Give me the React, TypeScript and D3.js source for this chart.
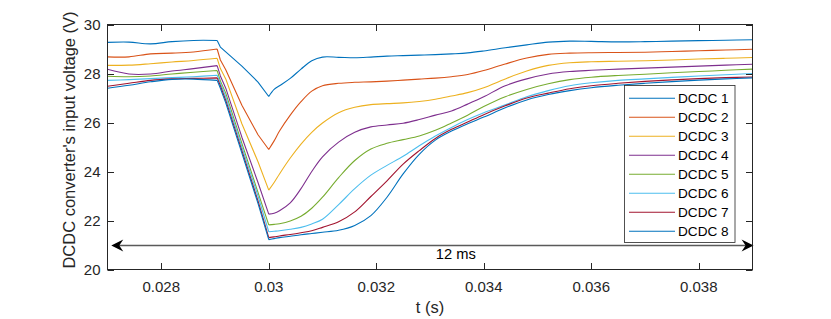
import React from "react";
import * as d3 from "d3";

const time = [
  0.027, 0.0274, 0.0278, 0.0282, 0.0286, 0.02904,
  0.0291, 0.0292, 0.0295, 0.0298, 0.03,
  0.0301, 0.0302, 0.0304, 0.0306, 0.0308, 0.031, 0.0313, 0.0316, 0.0319, 0.0322,
  0.0325, 0.0328, 0.0331, 0.0334, 0.0337, 0.034, 0.0344, 0.0348, 0.0352, 0.0356,
  0.036, 0.0365, 0.037, 0.0375, 0.038, 0.0385, 0.039,
];

const dcdc1 = [
  29.27, 29.28, 29.21, 29.3, 29.35, 29.35,
  29.08, 28.88, 28.3, 27.65, 27.06,
  27.35, 27.5, 27.8, 28.18, 28.52, 28.67, 28.66, 28.64, 28.67, 28.71,
  28.73, 28.75, 28.77, 28.8, 28.84, 28.92, 29.05, 29.17, 29.28, 29.32,
  29.31, 29.29, 29.3, 29.32, 29.34, 29.36, 29.38,
];
const dcdc2 = [
  28.68, 28.68, 28.8, 28.83, 28.88, 29.0,
  28.55, 28.15, 26.7, 25.5, 24.9,
  25.25, 25.65, 26.3, 26.85, 27.28, 27.5, 27.6, 27.64, 27.66, 27.69,
  27.73, 27.77, 27.81, 27.87, 27.96, 28.12, 28.39, 28.63, 28.78, 28.83,
  28.85, 28.86, 28.87, 28.9, 28.93, 28.96, 28.99,
];
const dcdc3 = [
  28.33, 28.34, 28.4, 28.47, 28.53, 28.62,
  28.2, 27.78, 25.95, 24.4, 23.24,
  23.55, 23.9, 24.55, 25.12, 25.6, 25.98, 26.4, 26.62, 26.73, 26.77,
  26.8, 26.86, 26.95, 27.08, 27.22, 27.42, 27.78, 28.1, 28.33, 28.44,
  28.48, 28.5, 28.52, 28.55, 28.59, 28.62, 28.65,
];
const dcdc4 = [
  28.17, 27.98, 27.98, 28.1, 28.2, 28.32,
  27.9, 27.4, 25.4, 23.55, 22.26,
  22.3, 22.4, 22.72, 23.3, 24.0, 24.6, 25.2, 25.6, 25.82, 25.9,
  25.97, 26.12, 26.3, 26.47, 26.75, 27.05, 27.5, 27.78, 27.98, 28.08,
  28.13, 28.18, 28.22, 28.26, 28.3, 28.34, 28.38,
];
const dcdc5 = [
  27.89, 27.87, 27.9, 27.98, 28.05, 28.12,
  27.7, 27.2, 25.15, 23.15, 21.82,
  21.84, 21.87, 21.98, 22.17, 22.5, 22.95, 23.75, 24.45, 24.92, 25.15,
  25.3, 25.45, 25.68, 25.98, 26.3, 26.65, 27.05, 27.35, 27.58, 27.75,
  27.85, 27.92, 27.97, 28.03, 28.08, 28.13, 28.18,
];
const dcdc6 = [
  27.72, 27.75, 27.79, 27.83, 27.87, 27.93,
  27.6, 27.05, 25.0, 23.0, 21.54,
  21.56, 21.58, 21.64, 21.72, 21.86, 22.05, 22.65, 23.3, 23.85, 24.25,
  24.62, 25.05, 25.45, 25.8, 26.12, 26.4, 26.72, 27.05, 27.3, 27.5,
  27.62, 27.72, 27.78, 27.84, 27.9, 27.95, 28.0,
];
const dcdc7 = [
  27.48, 27.6, 27.72, 27.78, 27.8, 27.82,
  27.5, 26.9, 24.85, 22.8, 21.3,
  21.33, 21.37, 21.43, 21.5, 21.58, 21.72, 21.95, 22.35, 22.98, 23.62,
  24.3, 24.85, 25.35, 25.72, 26.02, 26.32, 26.68, 27.0, 27.2, 27.38,
  27.5, 27.6, 27.68, 27.74, 27.79, 27.83, 27.86,
];
const dcdc8 = [
  27.4, 27.52, 27.66, 27.76, 27.77, 27.72,
  27.4, 26.8, 24.75, 22.7, 21.22,
  21.26, 21.3, 21.36, 21.42, 21.47, 21.52, 21.6, 21.8, 22.2, 22.95,
  23.9, 24.7, 25.28, 25.65, 25.95, 26.22, 26.6, 26.92, 27.14, 27.3,
  27.42, 27.52, 27.6, 27.67, 27.73, 27.78, 27.82,
];

const seriesValues = [dcdc1, dcdc2, dcdc3, dcdc4, dcdc5, dcdc6, dcdc7, dcdc8];
const seriesNames = ["DCDC 1", "DCDC 2", "DCDC 3", "DCDC 4", "DCDC 5", "DCDC 6", "DCDC 7", "DCDC 8"];
const seriesColors = ["#0072BD", "#D95319", "#EDB120", "#7E2F8E", "#77AC30", "#4DBEEE", "#A2142F", "#0072BD"];

const xTicks = [0.028, 0.03, 0.032, 0.034, 0.036, 0.038];
const xTickLabels = ["0.028", "0.03", "0.032", "0.034", "0.036", "0.038"];
const yTicks = [20, 22, 24, 26, 28, 30];
const yTickLabels = ["20", "22", "24", "26", "28", "30"];

const xDomain = [0.027, 0.039];
const yDomain = [20, 30];
const kinkIndex = 5;
const minIndex = 10;

const arrowX = [0.02707, 0.03902];
const arrowY = 21;
const arrowLabel = "12 ms";
const arrowLabelX = 0.03348;

const xLabel = "t (s)";
const yLabel = "DCDC converter's input voltage (V)";

const FONT = "'Liberation Sans', Arial, Helvetica, sans-serif";
const AX = "#262626";

export default function App() {
  const W = 831, H = 319;
  const L = 107.5, R = 752.5, T = 24.5, B = 269.5;
  const x = d3.scaleLinear().domain(xDomain).range([L, R]);
  const y = d3.scaleLinear().domain(yDomain).range([B, T]);
  const tickLen = 6.5;

  const smooth = d3.curveCatmullRom.alpha(0.5);
  const segs: [number, number, any][] = [
    [0, kinkIndex, smooth],
    [kinkIndex, minIndex, d3.curveLinear],
    [minIndex, time.length - 1, smooth],
  ];
  const pathFor = (vals: number[]) =>
    segs
      .map(([a, b, c]) =>
        d3
          .line<number>()
          .x((_, i) => x(time[a + i]))
          .y((v) => y(v))
          .curve(c)(vals.slice(a, b + 1))
      )
      .join("");

  const ax1 = x(arrowX[0]);
  const ax2 = x(arrowX[1]);
  const ay = Math.round(y(arrowY)) + 0.5;
  const hl = 12, hw = 6, notch = 4;

  const legX = 624.5, legY = 85.5, legW = 110.5, legH = 157;

  return (
    <svg width={W} height={H} style={{ position: "absolute", left: 0, top: 0, background: "#fff" }}>
      <rect x={0} y={0} width={W} height={H} fill="#fff" />
      <defs>
        <clipPath id="plotclip">
          <rect x={L} y={T} width={R - L} height={B - T} />
        </clipPath>
      </defs>
      <g clipPath="url(#plotclip)">
        {seriesValues.map((vals, i) => (
          <path key={i} d={pathFor(vals)} fill="none" stroke={seriesColors[i]} strokeWidth={1.1} strokeLinejoin="round" />
        ))}
      </g>
      <line x1={ax1 + notch} x2={ax2 - notch} y1={ay} y2={ay} stroke="#5a5a5a" strokeWidth={1.3} />
      <path
        d={`M${ax1},${ay} L${ax1 + hl},${ay - hw} L${ax1 + hl - notch},${ay} L${ax1 + hl},${ay + hw} Z`}
        fill="#000"
      />
      <path
        d={`M${ax2},${ay} L${ax2 - hl},${ay - hw} L${ax2 - hl + notch},${ay} L${ax2 - hl},${ay + hw} Z`}
        fill="#000"
      />
      <text x={x(arrowLabelX)} y={259.3} textAnchor="middle" fontFamily={FONT} fontSize={14.7} fill="#000">
        {arrowLabel}
      </text>
      <rect x={L} y={T} width={R - L} height={B - T} fill="none" stroke={AX} strokeWidth={1} />
      {xTicks.map((t, i) => (
        <g key={"xt" + i}>
          <line x1={Math.round(x(t)) + 0.5} x2={Math.round(x(t)) + 0.5} y1={B} y2={B - tickLen} stroke={AX} />
          <line x1={Math.round(x(t)) + 0.5} x2={Math.round(x(t)) + 0.5} y1={T} y2={T + tickLen} stroke={AX} />
          <text x={x(t)} y={292} textAnchor="middle" fontFamily={FONT} fontSize={15} fill={AX}>
            {xTickLabels[i]}
          </text>
        </g>
      ))}
      {yTicks.map((v, i) => (
        <g key={"yt" + i}>
          <line x1={L} x2={L + tickLen} y1={Math.round(y(v)) + 0.5} y2={Math.round(y(v)) + 0.5} stroke={AX} />
          <line x1={R} x2={R - tickLen} y1={Math.round(y(v)) + 0.5} y2={Math.round(y(v)) + 0.5} stroke={AX} />
          <text x={100.5} y={y(v) + 5.3} textAnchor="end" fontFamily={FONT} fontSize={15} fill={AX}>
            {yTickLabels[i]}
          </text>
        </g>
      ))}
      <text x={(L + R) / 2} y={313} textAnchor="middle" fontFamily={FONT} fontSize={16.5} fill={AX}>
        {xLabel}
      </text>
      <text
        transform="translate(75,140) rotate(-90)"
        textAnchor="middle"
        fontFamily={FONT}
        fontSize={16.5}
        fill={AX}
      >
        {yLabel}
      </text>
      <rect x={legX} y={legY} width={legW} height={legH} fill="#fff" stroke={AX} strokeWidth={0.8} />
      {seriesNames.map((name, i) => {
        const ry = 98.3 + 19 * i;
        return (
          <g key={"lg" + i}>
            <line x1={629} x2={675} y1={ry} y2={ry} stroke={seriesColors[i]} strokeWidth={1.1} />
            <text x={678} y={ry + 4.9} fontFamily={FONT} fontSize={13.6} fill="#000">
              {name}
            </text>
          </g>
        );
      })}
    </svg>
  );
}
